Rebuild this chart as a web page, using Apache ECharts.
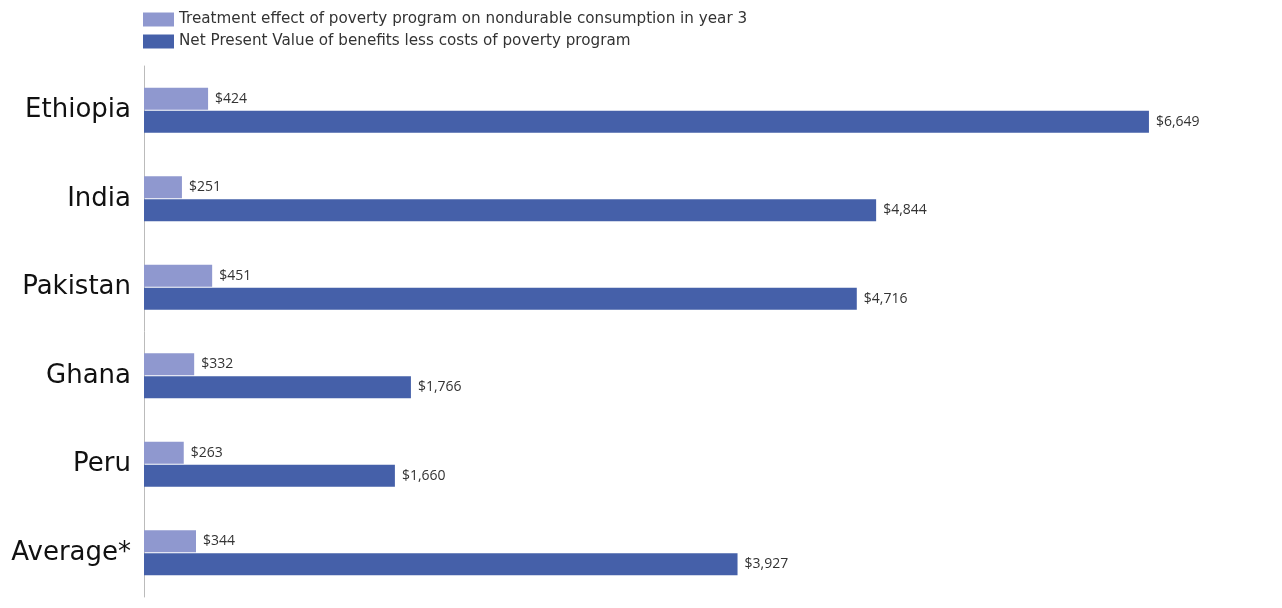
<!DOCTYPE html>
<html>
<head>
<meta charset="utf-8">
<script src="https://cdn.jsdelivr.net/npm/echarts@6/dist/echarts.min.js"></script>
<style>html,body{margin:0;padding:0;background:#fff;}#c{width:1282px;height:608px;}</style>
</head>
<body>
<div id="c"></div>
<script>
const categories = ["Ethiopia", "India", "Pakistan", "Ghana", "Peru", "Average*"];
const seriesNames = [
  "Treatment effect of poverty program on nondurable consumption in year 3",
  "Net Present Value of benefits less costs of poverty program"
];
const treatmentEffect = [424, 251, 451, 332, 263, 344];
const netPresentValue = [6649, 4844, 4716, 1766, 1660, 3927];

const chart = echarts.init(document.getElementById('c'));
const fmt = p => '$' + p.value.toLocaleString('en-US');
const labelStyle = {
  show: true, position: 'right', distance: 7, formatter: fmt,
  color: '#333', fontSize: 14, fontFamily: 'Open Sans, sans-serif'
};
chart.setOption({
  animation: false,
  backgroundColor: '#fff',
  legend: {
    orient: 'vertical', left: 143, top: 12, padding: 0,
    itemWidth: 31, itemHeight: 14, itemGap: 7,
    icon: 'rect',
    textStyle: { fontSize: 15.2, lineHeight: 14, color: '#333', fontFamily: 'DejaVu Sans, sans-serif' },
    data: seriesNames
  },
  grid: { left: 144, right: 80, top: 66, bottom: 11 },
  xAxis: {
    type: 'value', min: 0, max: 7000, show: false
  },
  yAxis: {
    type: 'category', data: categories, inverse: true,
    axisLine: { show: true, lineStyle: { color: '#bbb', width: 1 } },
    axisTick: { show: false },
    axisLabel: { fontSize: 26, color: '#111', margin: 13, fontFamily: 'DejaVu Sans, sans-serif' }
  },
  series: [
    {
      name: seriesNames[0], type: 'bar', data: treatmentEffect,
      barWidth: 22, barGap: '5%',
      itemStyle: { color: '#8f98cf' },
      label: labelStyle
    },
    {
      name: seriesNames[1], type: 'bar', data: netPresentValue,
      barWidth: 22, barGap: '5%',
      itemStyle: { color: '#4560a9' },
      label: labelStyle
    }
  ]
});
</script>
</body>
</html>
